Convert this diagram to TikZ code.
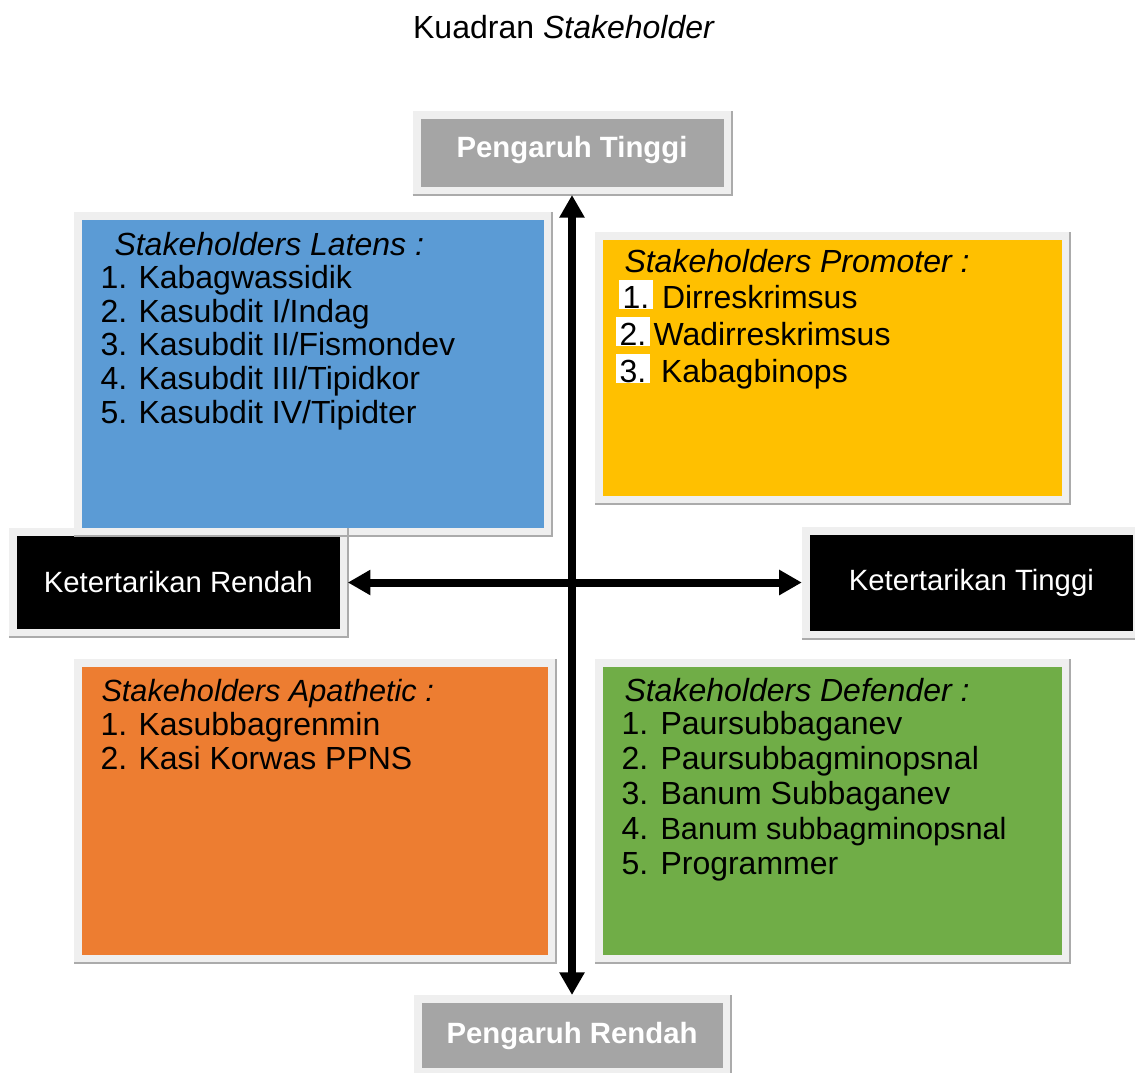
\documentclass[tikz,border=0pt]{standalone}
\usepackage{fontspec}
\setmainfont{Liberation Sans}
\usetikzlibrary{arrows.meta}

\definecolor{latens}{RGB}{91,155,213}
\definecolor{promoter}{RGB}{255,192,0}
\definecolor{apathetic}{RGB}{237,125,49}
\definecolor{defender}{RGB}{112,173,71}
\definecolor{pengaruhfill}{RGB}{165,165,165}
\definecolor{bingkai}{RGB}{239,239,239}

\tikzset{every picture/.style={line width=0.75pt}}
\tikzset{
	kotak/.style n args={3}{draw=bingkai, line width=6pt, fill=#1, inner sep=0pt,
		minimum width=#2*0.75pt, minimum height=#3*0.75pt},
	pengaruh/.style={text=white, font=\fontsize{22}{26}\selectfont\bfseries},
	minat/.style={text=white, font=\fontsize{22}{26}\selectfont},
	bayang/.style={draw=black!33, line width=1.5pt},
	panah/.style={line width=6pt, {Triangle[length=17pt,width=18pt]}-{Triangle[length=17pt,width=18pt]}},
	teks/.style={anchor=base west, inner sep=0pt, font=\fontsize{24}{28}\selectfont},
	tekskecil/.style={teks, font=\fontsize{23}{27}\selectfont},
	judulkuadran/.style={teks, font=\fontsize{24}{28}\selectfont\itshape},
	nomorputih/.style={teks, fill=white, inner xsep=3pt, text height=21pt, text depth=0.75pt}
}

\begin{document}
\begin{tikzpicture}[x=0.75pt,y=0.75pt,yscale=-1,xscale=1]
	\useasboundingbox (0,0) rectangle (1135,1072);

	%Shape: Rectangle [Latens]
	\draw (313,374) node [kotak={latens}{470}{316}] (latens) {};
	%Shape: Rectangle [Promoter]
	\draw (832.7,368) node [kotak={promoter}{467}{264}] (promoter) {};
	%Shape: Rectangle [Apathetic]
	\draw (315,811) node [kotak={apathetic}{474}{296}] (apathetic) {};
	%Shape: Rectangle [Defender]
	\draw (832.5,811) node [kotak={defender}{467}{296}] (defender) {};
	%Shape: Rectangle [Pengaruh]
	\draw (572,153) node [kotak={pengaruhfill}{311}{76}, pengaruh, text depth=0.85em] (ptinggi) {Pengaruh Tinggi};
	\draw (572,1035.5) node [kotak={pengaruhfill}{309}{73}, pengaruh] (prendah) {Pengaruh Rendah};
	%Shape: Rectangle [Ketertarikan]
	\draw (178.3,582.5) node [kotak={black}{331}{101}, minat] (krendah) {Ketertarikan Rendah};
	\draw (971.3,582.5) node [kotak={black}{331}{104}, minat] (ktinggi) {Ketertarikan Tinggi};

	%Shadow lines
	\draw [bayang] (latens.south west) -- (latens.south east) -- (latens.north east);
	\draw [bayang] (promoter.south west) -- (promoter.south east) -- (promoter.north east);
	\draw [bayang] (apathetic.south west) -- (apathetic.south east) -- (apathetic.north east);
	\draw [bayang] (defender.south west) -- (defender.south east) -- (defender.north east);
	\draw [bayang] (ptinggi.south west) -- (ptinggi.south east) -- (ptinggi.north east);
	\draw [bayang] (prendah.south west) -- (prendah.south east) -- (prendah.north east);
	\draw [bayang] (krendah.south west) -- (krendah.south east) -- (krendah.north east);
	\draw [bayang] (ktinggi.south west) -- (ktinggi.south east) -- (ktinggi.north east);

	%Straight Lines [axes]
	\draw [panah] (ptinggi) -- (prendah);
	\draw [panah] (krendah) -- (ktinggi);

	% Text Node
	\draw (564,38) node [teks, anchor=base] (judul) {Kuadran \textit{Stakeholder}};

	% Text Node [Latens]
	\draw (114,255) node [judulkuadran] (latens-h) {Stakeholders Latens :};
	\draw (100,288) node [teks] (latens-n1) {1.};
	\draw (138,288) node [teks] (latens-t1) {Kabagwassidik};
	\draw (100,322) node [teks] (latens-n2) {2.};
	\draw (138,322) node [teks] (latens-t2) {Kasubdit I/Indag};
	\draw (100,355.5) node [teks] (latens-n3) {3.};
	\draw (138,355.5) node [teks] (latens-t3) {Kasubdit II/Fismondev};
	\draw (100,389.5) node [teks] (latens-n4) {4.};
	\draw (138,389.5) node [teks] (latens-t4) {Kasubdit III/Tipidkor};
	\draw (100,423.5) node [teks] (latens-n5) {5.};
	\draw (138,423.5) node [teks] (latens-t5) {Kasubdit IV/Tipidter};

	% Text Node [Promoter]
	\draw (624,272) node [judulkuadran] (promoter-h) {Stakeholders Promoter :};
	\draw (618,308) node [nomorputih] (promoter-n1) {1.};
	\draw (661.5,308) node [teks] (promoter-t1) {Dirreskrimsus};
	\draw (615,345) node [nomorputih] (promoter-n2) {2.};
	\draw (653,345) node [teks] (promoter-t2) {Wadirreskrimsus};
	\draw (615,382) node [nomorputih] (promoter-n3) {3.};
	\draw (660.5,382) node [teks] (promoter-t3) {Kabagbinops};

	% Text Node [Apathetic]
	\draw (101,701) node [judulkuadran, font=\fontsize{23}{27}\selectfont\itshape] (apathetic-h) {Stakeholders Apathetic :};
	\draw (100,735) node [teks] (apathetic-n1) {1.};
	\draw (138,735) node [teks] (apathetic-t1) {Kasubbagrenmin};
	\draw (100,769) node [teks] (apathetic-n2) {2.};
	\draw (138,769) node [teks] (apathetic-t2) {Kasi Korwas PPNS};

	% Text Node [Defender]
	\draw (624,701) node [judulkuadran] (defender-h) {Stakeholders Defender :};
	\draw (621,734.5) node [teks] (defender-n1) {1.};
	\draw (660,734.5) node [teks] (defender-t1) {Paursubbaganev};
	\draw (621,769.5) node [teks] (defender-n2) {2.};
	\draw (660,769.5) node [teks] (defender-t2) {Paursubbagminopsnal};
	\draw (621,804) node [teks] (defender-n3) {3.};
	\draw (660,804) node [teks] (defender-t3) {Banum Subbaganev};
	\draw (621,839) node [teks] (defender-n4) {4.};
	\draw (660,839) node [tekskecil] (defender-t4) {Banum subbagminopsnal};
	\draw (621,874) node [teks] (defender-n5) {5.};
	\draw (660,874) node [teks] (defender-t5) {Programmer};

\end{tikzpicture}
\end{document}
